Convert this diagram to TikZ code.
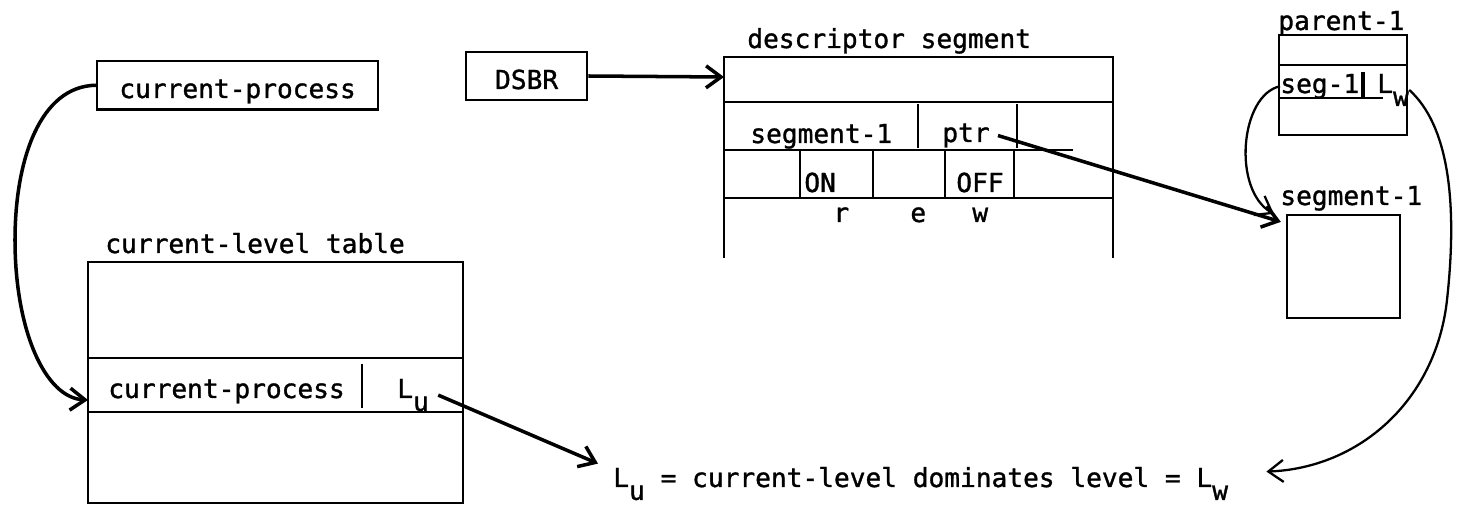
\documentclass[tikz,border=0pt]{standalone}
\usepackage{fontspec}
\setmainfont{DejaVu Sans Mono}[FakeBold=1.2]
\usetikzlibrary{arrows.meta,calc}
\newcommand{\lowsub}[1]{\raisebox{-0.9ex}{#1}}

\begin{document}
\begin{tikzpicture}[x=0.02cm, y=-0.02cm,
    font=\fontsize{14.9}{18}\selectfont,
    txt/.style={anchor=base west, inner sep=0pt},
    rule/.style={line width=1.3pt},
    reg/.style={draw, rule, anchor=base west, inner sep=0pt, text depth=0.23cm, text height=0.74cm},
    link/.style={line width=2pt, -{Straight Barb[length=3mm,width=4.4mm]}},
    thinlink/.style={line width=1.3pt, -{Straight Barb[length=3mm,width=4.4mm]}}]
\useasboundingbox (0,0) rectangle (1458,506);

% registers
\node[reg, minimum width=5.62cm] (cp) at (96,98) {current-process};
\node[reg, minimum width=2.42cm, text depth=0.22cm] (dsbr) at (465,89) {DSBR};

% current-level table
\node[txt] (tbllbl) at (105,253) {current-level table};
\draw[rule] (88,262) rectangle (463,503);
\draw[rule] (88,358) -- (463,358) (88,412) -- (463,412) (362,364) -- (362,408);
\node[txt] (cprow) at (108,398) {current-process};
\node[txt] (lu) at (397,398) {L\lowsub{u}};
\coordinate (rowin) at (88,400);

% descriptor segment
\node[txt] (dslbl) at (747,48) {descriptor segment};
\draw[rule] (724,258) -- (724,57) -- (1113,57) -- (1113,258);
\draw[rule] (724,102) -- (1113,102) (724,150) -- (1073,150) (724,198) -- (1113,198);
\foreach \x in {918,1017} \draw[rule] (\x,104) -- (\x,148);
\foreach \x in {800,873,945,1014} \draw[rule] (\x,150) -- (\x,197);
\node[txt] (segname) at (750,143) {segment-1};
\node[txt] (ptr) at (942,142) {ptr};
\node[txt] (on) at (804,192) {ON};
\node[txt] (off) at (956,192) {OFF};
\node[txt] (bitr) at (833,222) {r};
\node[txt] (bite) at (910,222) {e};
\node[txt] (bitw) at (972,222) {w};
\coordinate (dsin) at (724,77);

% parent-1 and segment-1
\node[txt] (parlbl) at (1278,30) {parent-1};
\draw[rule] (1279,35) rectangle (1407,135) (1279,65) -- (1407,65) (1279,98) -- (1383,98);
\draw[line width=2.2pt] (1363,72) -- (1363,98);
\node[txt] (seg1) at (1280,93) {seg-1};
\node[txt] (lw) at (1377,93) {L\lowsub{w}};
\node[txt] (seglbl) at (1280,205) {segment-1};
\node[draw, rule, minimum width=2.26cm, minimum height=2.06cm, inner sep=0pt] (segbox) at (1343.5,266.5) {};

% level check
\node[txt] (eq) at (613,487) {L\lowsub{u} = current-level dominates level = L\lowsub{w}};

% pointers
\draw[link] (cp.west) .. controls (40,86) and (15,160) .. (15,240) .. controls (15,330) and (45,398) .. (rowin);
\draw[link] (dsbr.east) -- (dsin);
\draw[link] ([xshift=0.16cm]ptr.east) -- ([xshift=-0.1cm, yshift=-0.16cm]segbox.north west);
\draw[thinlink] (seg1.west) .. controls (1240,95) and (1232,190) .. ([xshift=-0.24cm]segbox.north west);
\draw[link] ([xshift=0.18cm]lu.east) -- ([shift={(-15,-20)}]eq.west);
\draw[thinlink] (lw.east) .. controls (1448,125) and (1458,200) .. (1447,300) .. controls (1436,400) and (1360,468) .. ([shift={(38,-12)}]eq.east);
\end{tikzpicture}
\end{document}
